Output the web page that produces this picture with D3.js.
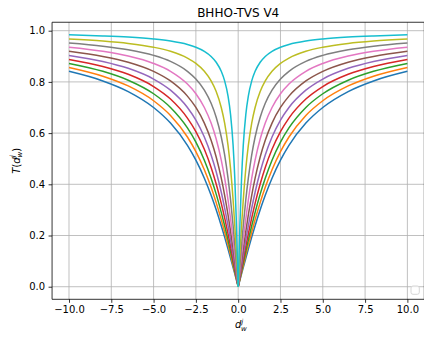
<!DOCTYPE html>
<html>
<head>
<meta charset="utf-8">
<script src="https://cdn.jsdelivr.net/npm/d3@7"></script>
<style>
  html, body { margin: 0; padding: 0; background: #fff; }
  svg { display: block; font-family: "DejaVu Sans", sans-serif; }
</style>
</head>
<body>
<svg id="chart" width="424" height="341"></svg>
<script>
// ---- data ----
const title = "BHHO-TVS V4";
const xValues = [-10,-8,-6.5,-5,-4,-3,-2.5,-2,-1.6,-1.3,-1,-0.8,-0.6,-0.45,-0.3,-0.2,-0.1,0,0.1,0.2,0.3,0.45,0.6,0.8,1,1.3,1.6,2,2.5,3,4,5,6.5,8,10];
const xTicks = [-10,-7.5,-5,-2.5,0,2.5,5,7.5,10];
const yTicks = [0,0.2,0.4,0.6,0.8,1.0];
const seriesNames = ["tau4.0","tau3.6","tau3.2","tau2.8","tau2.4","tau2.0","tau1.6","tau1.2","tau0.8","tau0.4"];
const colors = ["#1f77b4","#ff7f0e","#2ca02c","#d62728","#9467bd","#8c564b","#e377c2","#7f7f7f","#bcbd22","#17becf"];
const blue   = [.8413,.8038,.7623,.7001,.6391,.5519,.4941,.4238,.3571,.3005,.2382,.1938,.1473,.1113,.0746,.0499,.0250,0,.0250,.0499,.0746,.1113,.1473,.1938,.2382,.3005,.3571,.4238,.4941,.5519,.6391,.7001,.7623,.8038,.8413];
const orange = [.8566,.8224,.7842,.7264,.6688,.5847,.5276,.4568,.3880,.3285,.2619,.2138,.1630,.1234,.0829,.0554,.0278,0,.0278,.0554,.0829,.1234,.1630,.2138,.2619,.3285,.3880,.4568,.5276,.5847,.6688,.7264,.7842,.8224,.8566];
const green  = [.8721,.8413,.8066,.7537,.7001,.6202,.5647,.4941,.4238,.3616,.2905,.2382,.1823,.1384,.0931,.0623,.0312,0,.0312,.0623,.0931,.1384,.1823,.2382,.2905,.3616,.4238,.4941,.5647,.6202,.7001,.7537,.8066,.8413,.8721];
const red    = [.8877,.8604,.8296,.7820,.7331,.6587,.6057,.5366,.4657,.4012,.3255,.2686,.2067,.1574,.1062,.0711,.0357,0,.0357,.0711,.1062,.1574,.2067,.2686,.3255,.4012,.4657,.5366,.6057,.6587,.7331,.7820,.8296,.8604,.8877];
const purple = [.9035,.8799,.8530,.8112,.7677,.7001,.6508,.5847,.5147,.4488,.3689,.3071,.2382,.1823,.1234,.0829,.0416,0,.0416,.0829,.1234,.1823,.2382,.3071,.3689,.4488,.5147,.5847,.6508,.7001,.7677,.8112,.8530,.8799,.9035];
const brown  = [.9194,.8995,.8769,.8413,.8038,.7445,.7001,.6391,.5721,.5066,.4238,.3571,.2804,.2163,.1473,.0992,.0499,0,.0499,.0992,.1473,.2163,.2804,.3571,.4238,.5066,.5721,.6391,.7001,.7445,.8038,.8413,.8769,.8995,.9194];
const pink   = [.9354,.9194,.9010,.8721,.8413,.7916,.7537,.7001,.6391,.5769,.4941,.4238,.3389,.2648,.1823,.1234,.0623,0,.0623,.1234,.1823,.2648,.3389,.4238,.4941,.5769,.6391,.7001,.7537,.7916,.8413,.8721,.9010,.9194,.9354];
const gray   = [.9515,.9394,.9255,.9035,.8799,.8413,.8112,.7677,.7164,.6618,.5847,.5147,.4238,.3389,.2382,.1630,.0829,0,.0829,.1630,.2382,.3389,.4238,.5147,.5847,.6618,.7164,.7677,.8112,.8413,.8799,.9035,.9255,.9394,.9515];
const olive  = [.9676,.9595,.9502,.9354,.9194,.8929,.8721,.8413,.8038,.7623,.7001,.6391,.5519,.4607,.3389,.2382,.1234,0,.1234,.2382,.3389,.4607,.5519,.6391,.7001,.7623,.8038,.8413,.8721,.8929,.9194,.9354,.9502,.9595,.9676];
const cyan   = [.9838,.9797,.9751,.9676,.9595,.9461,.9354,.9194,.8995,.8769,.8413,.8038,.7445,.6722,.5519,.4238,.2382,0,.2382,.4238,.5519,.6722,.7445,.8038,.8413,.8769,.8995,.9194,.9354,.9461,.9595,.9676,.9751,.9797,.9838];
const seriesValues = [blue, orange, green, red, purple, brown, pink, gray, olive, cyan];

// ---- layout ----
const svg = d3.select("#chart");
const L = 52.07, R = 424.3, T = 22.25, B = 299.3;
const x = d3.scaleLinear().domain([-11, 11]).range([L, R]);
const y = d3.scaleLinear().domain([-0.0492, 1.033]).range([B, T]);
const fmtX = v => d3.format(".1f")(v).replace("-", "\u2212");
const fmtY = d3.format(".1f");

svg.append("rect").attr("x",0).attr("y",0).attr("width",424).attr("height",341).attr("fill","#fff");

// grid
const grid = svg.append("g");
grid.selectAll("line.gx").data(xTicks).join("line")
  .attr("x1", d => x(d)).attr("x2", d => x(d)).attr("y1", T).attr("y2", B)
  .attr("stroke", "#b0b0b0").attr("stroke-width", 0.8);
grid.selectAll("line.gy").data(yTicks).join("line")
  .attr("y1", d => y(d)).attr("y2", d => y(d)).attr("x1", L).attr("x2", R)
  .attr("stroke", "#b0b0b0").attr("stroke-width", 0.8);

// lines: draw each side separately so the V tip stays sharp
const lineGen = d3.line().x(d => x(d[0])).y(d => y(d[1])).curve(d3.curveMonotoneX);
const plot = svg.append("g");
seriesValues.forEach((vals, i) => {
  const pts = xValues.map((xv, j) => [xv, vals[j]]);
  const left = pts.filter(p => p[0] <= 0);
  const right = pts.filter(p => p[0] >= 0);
  [left, right].forEach(seg => {
    plot.append("path").datum(seg)
      .attr("d", lineGen)
      .attr("fill", "none")
      .attr("stroke", colors[i])
      .attr("stroke-width", 1.5)
      .attr("stroke-linejoin", "round")
      .attr("stroke-linecap", "butt")
      .attr("data-series", seriesNames[i]);
  });
});

// axes
const xAxis = d3.axisBottom(x).tickValues(xTicks).tickFormat(fmtX).tickSizeOuter(0).tickSizeInner(3.5).tickPadding(3.5);
const yAxis = d3.axisLeft(y).tickValues(yTicks).tickFormat(fmtY).tickSizeOuter(0).tickSizeInner(3.5).tickPadding(3.5);
const gx = svg.append("g").attr("transform", `translate(0,${B})`).call(xAxis);
const gy = svg.append("g").attr("transform", `translate(${L},0)`).call(yAxis);
[gx, gy].forEach(g => {
  g.select(".domain").remove();
  g.selectAll(".tick line").attr("stroke", "#000").attr("stroke-width", 0.8);
  g.selectAll(".tick text").attr("fill", "#000").attr("font-size", 10)
    .attr("font-family", "DejaVu Sans, sans-serif");
});

// spines
svg.append("line").attr("x1", L).attr("x2", L).attr("y1", T).attr("y2", B).attr("stroke", "#000").attr("stroke-width", 0.8);
svg.append("line").attr("x1", L).attr("x2", R).attr("y1", B).attr("y2", B).attr("stroke", "#000").attr("stroke-width", 0.8);
svg.append("line").attr("x1", L).attr("x2", R).attr("y1", T).attr("y2", T).attr("stroke", "#000").attr("stroke-width", 0.8);
svg.append("line").attr("x1", R).attr("x2", R).attr("y1", T).attr("y2", B).attr("stroke", "#000").attr("stroke-width", 0.8);

// empty legend frame (lower right)
svg.append("rect").attr("x", 411).attr("y", 286).attr("width", 8.3).attr("height", 8.3)
  .attr("rx", 2).attr("fill", "#fff").attr("fill-opacity", 0.8)
  .attr("stroke", "#d6d6d6").attr("stroke-width", 1);

// title
svg.append("text").attr("x", (L + R) / 2).attr("y", 16.5).attr("text-anchor", "middle")
  .attr("font-size", 12).attr("fill", "#000").text(title);

// x label: d_w^j
const xl = svg.append("text").attr("x", 235).attr("y", 328).attr("font-size", 10)
  .attr("font-style", "italic").attr("fill", "#000");
xl.append("tspan").text("d");
xl.append("tspan").attr("font-size", 7).attr("dy", -4.2).text("j");
xl.append("tspan").attr("font-size", 7).attr("dx", -2.2).attr("dy", 6.7).text("w");

// y label: T(d_w^j)
const yl = svg.append("text").attr("transform", "translate(19.5,160.8) rotate(-90)")
  .attr("text-anchor", "middle").attr("font-size", 10).attr("fill", "#000");
yl.append("tspan").attr("font-style", "italic").text("T");
yl.append("tspan").text("(");
yl.append("tspan").attr("font-style", "italic").text("d");
yl.append("tspan").attr("font-style", "italic").attr("font-size", 7).attr("dy", -4.2).text("j");
yl.append("tspan").attr("font-style", "italic").attr("font-size", 7).attr("dx", -2.2).attr("dy", 6.7).text("w");
yl.append("tspan").attr("dy", -2.5).text(")");
</script>
</body>
</html>
